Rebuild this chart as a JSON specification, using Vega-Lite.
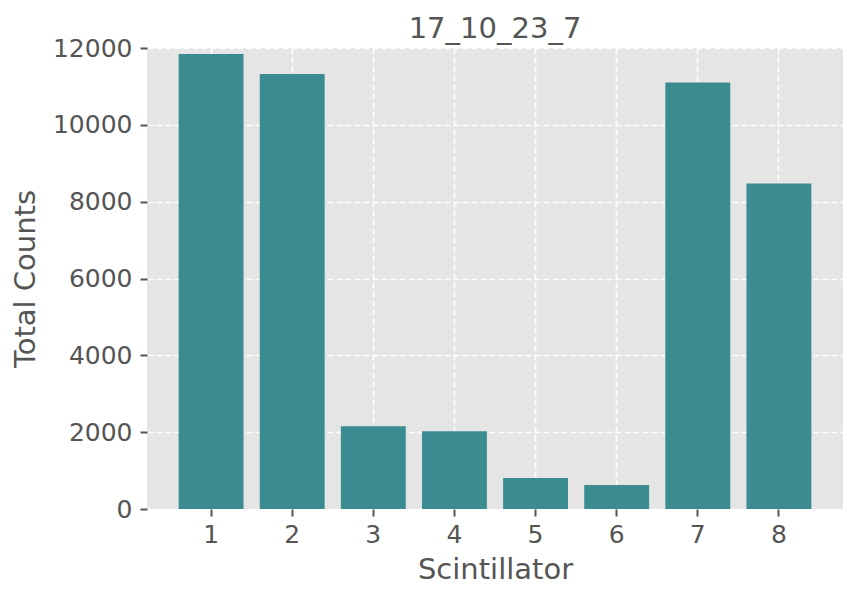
{
  "$schema": "https://vega.github.io/schema/vega-lite/v6.json",
  "width": 696,
  "height": 461,
  "autosize": "none",
  "padding": {"left": 147, "top": 48, "right": 15, "bottom": 92},
  "background": "white",
  "title": {
    "text": "17_10_23_7",
    "fontSize": 29,
    "font": "DejaVu Sans",
    "fontWeight": "normal",
    "color": "#555555",
    "offset": 8,
    "dy": 16,
    "anchor": "middle"
  },
  "data": {
    "values": [
      {"scintillator": 1, "counts": 11845},
      {"scintillator": 2, "counts": 11325},
      {"scintillator": 3, "counts": 2155},
      {"scintillator": 4, "counts": 2025},
      {"scintillator": 5, "counts": 805},
      {"scintillator": 6, "counts": 625},
      {"scintillator": 7, "counts": 11100},
      {"scintillator": 8, "counts": 8470}
    ]
  },
  "mark": {"type": "bar", "color": "#3A8C91"},
  "encoding": {
    "x": {
      "field": "scintillator",
      "type": "ordinal",
      "title": "Scintillator",
      "scale": {"paddingInner": 0.2, "paddingOuter": 0.39},
      "axis": {"labelAngle": 0, "bandPosition": 0.5, "labelPadding": 6, "titlePadding": 8}
    },
    "y": {
      "field": "counts",
      "type": "quantitative",
      "title": "Total Counts",
      "scale": {"domain": [0, 12000], "nice": false},
      "axis": {"values": [0, 2000, 4000, 6000, 8000, 10000, 12000], "format": "d", "labelPadding": 8, "titlePadding": 12}
    }
  },
  "config": {
    "view": {"fill": "#E5E5E5", "stroke": null},
    "axis": {
      "domain": false,
      "grid": true,
      "gridColor": "#FFFFFF",
      "gridDash": [6, 3],
      "gridWidth": 1.6,
      "gridOpacity": 1,
      "tickColor": "#555555",
      "tickSize": 7,
      "tickWidth": 2,
      "labelFont": "DejaVu Sans",
      "labelFontSize": 25,
      "labelColor": "#555555",
      "titleFont": "DejaVu Sans",
      "titleFontSize": 29,
      "titleFontWeight": "normal",
      "titleColor": "#555555"
    }
  }
}
